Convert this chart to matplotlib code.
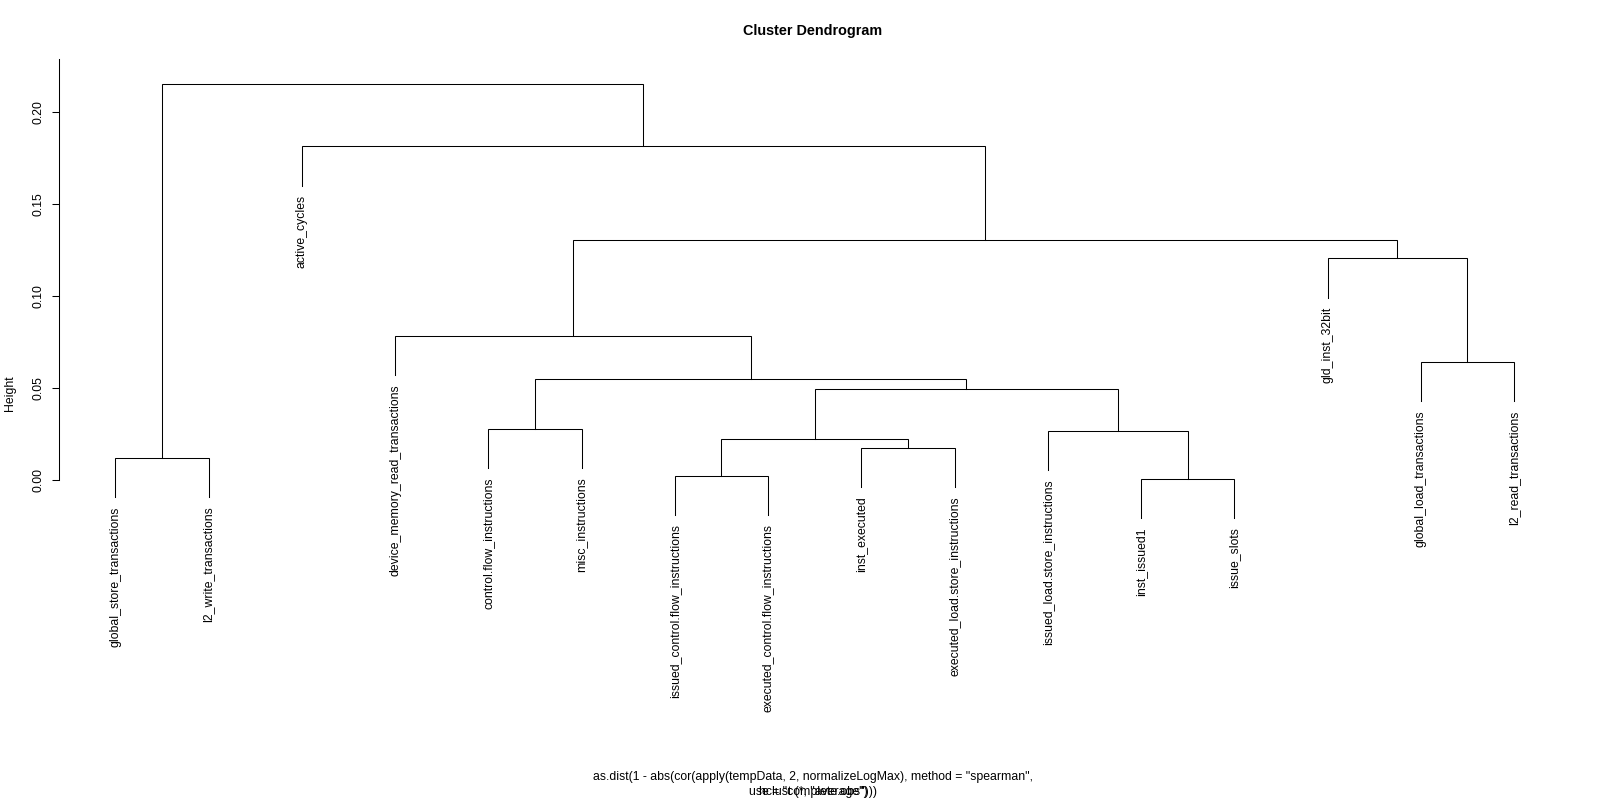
import matplotlib
matplotlib.use("Agg")
import matplotlib.pyplot as plt
import numpy as np

plt.rcParams['font.family'] = ['Liberation Sans', 'DejaVu Sans']

# leaves, in the order they appear on the plot
labels = ["global_store_transactions", "l2_write_transactions", "active_cycles",
          "device_memory_read_transactions", "control.flow_instructions", "misc_instructions",
          "issued_control.flow_instructions", "executed_control.flow_instructions",
          "inst_executed", "executed_load.store_instructions",
          "issued_load.store_instructions", "inst_issued1", "issue_slots",
          "gld_inst_32bit", "global_load_transactions", "l2_read_transactions"]

# R style merge table: negative = leaf number, positive = earlier merge step
merge = [(-12, -13), (-7, -8), (-1, -2), (-9, -10), (2, 4), (-11, 1), (-5, -6),
         (5, 6), (7, 8), (-15, -16), (-4, 9), (-14, 10), (11, 12), (-3, 13), (3, 14)]
heights = [0.0008, 0.0023, 0.0120, 0.0175, 0.0223, 0.0269, 0.0280,
           0.0495, 0.0551, 0.0642, 0.0783, 0.1204, 0.1305, 0.1812, 0.2153]

yticks = [0.00, 0.05, 0.10, 0.15, 0.20]
title = "Cluster Dendrogram"
xlab1 = 'as.dist(1 - abs(cor(apply(tempData, 2, normalizeLogMax), method = "spearman",'
xlab2 = 'use = "complete.obs")))'
sub = 'hclust (*, "average")'

hang = 0.1 * (max(heights) - min(heights))

W, H = 1600, 800
fig = plt.figure(figsize=(16, 8), dpi=100)
ax = fig.add_axes([59.3 / W, 73 / H, (1570 - 59.3) / W, (727 - 59) / H])
ax.set_xlim(0.4, 16.6)
ax.set_ylim(-0.1341, 0.2287)

fs = 8.8
lw = 0.75

cx = {}
for k, (a, b) in enumerate(merge):
    h = heights[k]
    pts = []
    for c in (a, b):
        if c < 0:
            x = -c
            y = h - hang
            ax.annotate(labels[x - 1], (x, y), xytext=(0, -6.5), textcoords='offset points',
                        rotation=90, ha='center', va='top', fontsize=fs)
        else:
            x, y = cx[c]
        pts.append((x, y))
    (xa, ya), (xb, yb) = pts
    ax.plot([xa, xa, xb, xb], [ya, h, h, yb], color='black', lw=lw, solid_joinstyle='miter')
    cx[k + 1] = ((xa + xb) / 2, h)

# axis like R's
for s in ['top', 'right', 'bottom']:
    ax.spines[s].set_visible(False)
ax.spines['left'].set_bounds(0, 0.2287)
ax.spines['left'].set_linewidth(lw)
ax.set_xticks([])
ax.set_yticks(yticks)
ax.set_yticklabels(["%.2f" % t for t in yticks], rotation=90, va='center', fontsize=fs)
ax.tick_params(axis='y', length=5.4, width=lw, pad=5)
ax.set_ylabel("Height", fontsize=fs, labelpad=12)

fig.text(813 / W, 1 - 30.5 / H, title, ha='center', va='center', fontsize=10.4, fontweight='bold')
fig.text(813 / W, 1 - 777 / H, xlab1, ha='center', va='center', fontsize=fs)
fig.text(813 / W, 1 - 792 / H, xlab2, ha='center', va='center', fontsize=fs)
fig.text(813 / W, 1 - 792 / H, sub, ha='center', va='center', fontsize=fs)

fig.savefig("out.png", dpi=100)
